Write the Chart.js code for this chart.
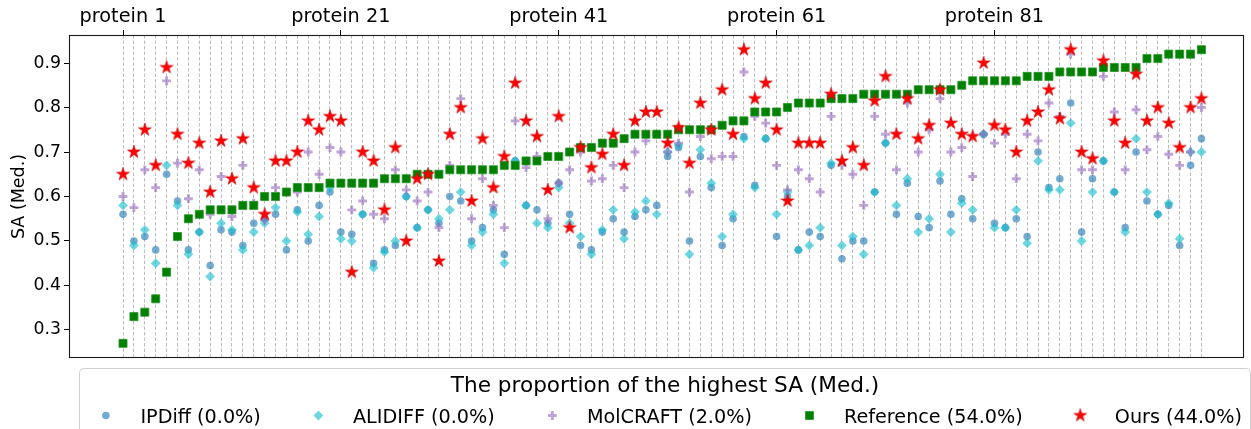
<!DOCTYPE html>
<html>
<head>
<meta charset="utf-8">
<script src="https://cdn.jsdelivr.net/npm/chart.js@4.4.0/dist/chart.umd.min.js"></script>
<style>
html,body{margin:0;padding:0;background:#fff;overflow:hidden}
canvas{display:block}
</style>
</head>
<body>
<canvas id="c" width="1251" height="429"></canvas>
<script>
// ---- data ----
const tickPositions = [1, 21, 41, 61, 81];
const tickLabels = ['protein 1', 'protein 21', 'protein 41', 'protein 61', 'protein 81'];
const yTicks = [0.3, 0.4, 0.5, 0.6, 0.7, 0.8, 0.9];
const seriesLabels = ['IPDiff (0.0%)', 'ALIDIFF (0.0%)', 'MolCRAFT (2.0%)', 'Reference (54.0%)', 'Ours (44.0%)'];
const legendTitle = 'The proportion of the highest SA (Med.)';
const yTitle = 'SA (Med.)';

const ipdiff = [
0.56,0.50,0.51,0.48,0.65,0.59,0.48,0.52,0.445,0.525,
0.52,0.49,0.54,0.55,0.56,0.48,0.57,0.50,0.58,0.61,
0.52,0.515,0.56,0.45,0.48,0.49,0.60,0.53,0.57,0.54,
0.60,0.59,0.50,0.53,0.57,0.47,0.68,0.58,0.57,0.54,
0.63,0.56,0.49,0.48,0.52,0.55,0.52,0.555,0.57,0.58,
0.69,0.71,0.50,0.69,0.62,0.49,0.55,0.735,0.625,0.73,
0.51,0.60,0.48,0.52,0.51,0.67,0.46,0.50,0.50,0.61,
0.72,0.56,0.63,0.555,0.53,0.635,0.56,0.595,0.55,0.74,
0.54,0.53,0.55,0.51,0.70,0.62,0.64,0.81,0.52,0.64,
0.68,0.61,0.53,0.70,0.59,0.56,0.58,0.49,0.67,0.73
];
const alidiff = [
0.58,0.49,0.525,0.45,0.67,0.58,0.47,0.52,0.42,0.54,
0.525,0.48,0.52,0.54,0.575,0.50,0.565,0.515,0.555,0.62,
0.505,0.50,0.56,0.44,0.475,0.50,0.60,0.53,0.57,0.55,
0.57,0.61,0.49,0.52,0.56,0.45,0.68,0.58,0.54,0.53,
0.62,0.54,0.51,0.47,0.525,0.57,0.505,0.565,0.59,0.56,
0.70,0.715,0.47,0.705,0.63,0.51,0.56,0.73,0.62,0.73,
0.56,0.61,0.48,0.49,0.53,0.675,0.49,0.51,0.47,0.61,
0.72,0.58,0.64,0.52,0.55,0.65,0.52,0.585,0.57,0.74,
0.53,0.53,0.57,0.495,0.68,0.615,0.615,0.765,0.50,0.61,
0.68,0.61,0.52,0.73,0.61,0.56,0.585,0.505,0.70,0.70
];
const molcraft = [
0.60,0.575,0.66,0.62,0.86,0.675,0.595,0.66,0.56,0.645,
0.555,0.67,0.585,0.547,0.62,0.61,0.61,0.70,0.65,0.71,
0.70,0.57,0.59,0.56,0.55,0.66,0.615,0.59,0.61,0.53,
0.67,0.82,0.55,0.64,0.58,0.53,0.77,0.665,0.69,0.55,
0.63,0.66,0.70,0.635,0.64,0.67,0.62,0.70,0.725,0.74,
0.70,0.72,0.61,0.735,0.685,0.69,0.69,0.88,0.78,0.765,
0.67,0.615,0.66,0.64,0.61,0.78,0.67,0.65,0.58,0.78,
0.74,0.66,0.81,0.70,0.75,0.82,0.70,0.71,0.645,0.74,
0.72,0.74,0.64,0.74,0.725,0.81,0.78,0.92,0.66,0.66,
0.87,0.79,0.66,0.795,0.705,0.735,0.695,0.67,0.70,0.80
];
const reference = [
0.27,0.33,0.34,0.37,0.43,0.51,0.55,0.56,0.57,0.57,
0.57,0.58,0.58,0.60,0.60,0.61,0.62,0.62,0.62,0.63,
0.63,0.63,0.63,0.63,0.64,0.64,0.64,0.65,0.65,0.65,
0.66,0.66,0.66,0.66,0.66,0.67,0.67,0.68,0.68,0.69,
0.69,0.70,0.71,0.71,0.72,0.72,0.73,0.74,0.74,0.74,
0.74,0.75,0.75,0.75,0.75,0.76,0.77,0.77,0.79,0.79,
0.79,0.80,0.81,0.81,0.81,0.82,0.82,0.82,0.83,0.83,
0.83,0.83,0.83,0.84,0.84,0.84,0.84,0.85,0.86,0.86,
0.86,0.86,0.86,0.87,0.87,0.87,0.88,0.88,0.88,0.88,
0.89,0.89,0.89,0.89,0.91,0.91,0.92,0.92,0.92,0.93
];
const ours = [
0.65,0.70,0.75,0.67,0.89,0.74,0.675,0.72,0.61,0.725,
0.64,0.73,0.62,0.56,0.68,0.68,0.70,0.77,0.75,0.78,
0.77,0.43,0.70,0.68,0.57,0.71,0.50,0.64,0.65,0.455,
0.74,0.80,0.59,0.73,0.62,0.69,0.855,0.77,0.735,0.615,
0.78,0.53,0.71,0.665,0.695,0.74,0.67,0.77,0.79,0.79,
0.72,0.755,0.675,0.81,0.75,0.84,0.74,0.93,0.82,0.855,
0.75,0.59,0.72,0.72,0.72,0.83,0.68,0.71,0.67,0.815,
0.87,0.74,0.82,0.73,0.76,0.84,0.765,0.74,0.735,0.90,
0.76,0.75,0.70,0.77,0.79,0.84,0.775,0.93,0.70,0.685,
0.905,0.77,0.72,0.875,0.77,0.80,0.765,0.71,0.80,0.82
];

// ---- styling ----
const FONT = '"DejaVu Sans", "Liberation Sans", sans-serif';

function makeStar(color, R) {
  const size = Math.ceil(R * 2 + 2);
  const cv = document.createElement('canvas');
  cv.width = size; cv.height = size;
  const c = cv.getContext('2d');
  const cx = size / 2, cy = size / 2, r = R * 0.38;
  c.beginPath();
  for (let i = 0; i < 10; i++) {
    const rad = (i % 2 === 0) ? R : r;
    const a = -Math.PI / 2 + i * Math.PI / 5;
    const px = cx + rad * Math.cos(a), py = cy + rad * Math.sin(a);
    if (i === 0) c.moveTo(px, py); else c.lineTo(px, py);
  }
  c.closePath();
  c.fillStyle = color;
  c.fill();
  c.lineWidth = 0.6;
  c.strokeStyle = 'rgba(200,0,0,1)';
  c.stroke();
  return cv;
}
const starImg = makeStar('#ff0000', 6.8);

function toPoints(arr) { return arr.map((v, i) => ({ x: i + 1, y: v })); }

const datasets = [
  { label: seriesLabels[0], data: toPoints(ipdiff), pointStyle: 'circle', pointRadius: 3.8,
    backgroundColor: 'rgba(31,119,180,0.62)', borderColor: 'rgba(31,119,180,0.62)', borderWidth: 0, order: 5 },
  { label: seriesLabels[1], data: toPoints(alidiff), pointStyle: 'rectRot', pointRadius: 4.9,
    backgroundColor: 'rgba(23,190,207,0.62)', borderColor: 'rgba(23,190,207,0.62)', borderWidth: 0, order: 4 },
  { label: seriesLabels[2], data: toPoints(molcraft), pointStyle: 'cross', pointRadius: 4.4,
    backgroundColor: 'rgba(148,103,189,0.6)', borderColor: 'rgba(148,103,189,0.6)', borderWidth: 2.9, order: 3 },
  { label: seriesLabels[3], data: toPoints(reference), pointStyle: 'rect', pointRadius: 5.7,
    backgroundColor: '#008000', borderColor: 'rgba(40,150,40,1)', borderWidth: 0.8, order: 2 },
  { label: seriesLabels[4], data: toPoints(ours), pointStyle: starImg, pointRadius: 6.8,
    backgroundColor: '#ff0000', borderColor: '#ff0000', borderWidth: 0, order: 1 }
];
datasets.forEach(d => { d.pointHoverRadius = d.pointRadius; d.showLine = false; });

// frame (all four spines)
const framePlugin = {
  id: 'frame',
  afterDatasetsDraw(chart) {
    const { ctx, chartArea: a } = chart;
    ctx.save();
    ctx.strokeStyle = '#1a1a1a';
    ctx.lineWidth = 1.1;
    ctx.strokeRect(Math.round(a.left) + 0.5, Math.round(a.top) + 0.5,
                   Math.round(a.right - a.left) - 1, Math.round(a.bottom - a.top) - 1);
    ctx.restore();
  }
};

// legend drawn below the plot (matplotlib-like layout)
const legendPlugin = {
  id: 'mplLegend',
  afterDraw(chart) {
    const ctx = chart.ctx;
    const fs = 19.2;
    const titleFs = 21.6;
    const boxL = 79.5, boxT = 368.5, boxR = 1250.5, boxB = 445;
    ctx.save();
    ctx.beginPath();
    if (ctx.roundRect) ctx.roundRect(boxL, boxT, boxR - boxL, boxB - boxT, 4);
    else ctx.rect(boxL, boxT, boxR - boxL, boxB - boxT);
    ctx.fillStyle = 'rgba(255,255,255,0.85)';
    ctx.fill();
    ctx.strokeStyle = '#d0d0d0';
    ctx.lineWidth = 1;
    ctx.stroke();

    ctx.font = titleFs + 'px ' + FONT;
    ctx.fillStyle = '#000';
    ctx.textBaseline = 'alphabetic';
    ctx.textAlign = 'center';
    ctx.fillText(legendTitle, 665, 391.5);

    ctx.font = fs + 'px ' + FONT;
    ctx.textAlign = 'left';
    let x = 79 + 0.4 * fs;
    const my = 415.5;
    chart.data.datasets.forEach(ds => {
      const mx = x + fs;
      ctx.save();
      ctx.fillStyle = ds.backgroundColor;
      ctx.strokeStyle = ds.borderColor;
      ctx.lineWidth = ds.borderWidth;
      Chart.helpers.drawPoint(ctx, { pointStyle: ds.pointStyle, radius: ds.pointRadius, borderWidth: ds.borderWidth, rotation: 0 }, mx, my);
      ctx.restore();
      const tx = x + 2 * fs + 0.8 * fs;
      ctx.fillStyle = '#000';
      ctx.fillText(ds.label, tx, 422.5);
      x = tx + ctx.measureText(ds.label).width + 2 * fs;
    });
    ctx.restore();
  }
};

new Chart(document.getElementById('c'), {
  type: 'scatter',
  data: { datasets },
  options: {
    responsive: false,
    animation: false,
    events: [],
    devicePixelRatio: 1,
    layout: { padding: { left: 0, right: 1.5, top: 0, bottom: 71 } },
    plugins: { legend: { display: false }, tooltip: { enabled: false } },
    scales: {
      x: {
        type: 'linear',
        position: 'top',
        min: -3.96,
        max: 103.88,
        afterBuildTicks: s => { s.ticks = reference.map((_, i) => ({ value: i + 1 })); },
        afterFit: s => { s.height = 35; },
        ticks: {
          autoSkip: false, maxRotation: 0, minRotation: 0, padding: 1,
          color: '#000', font: { family: FONT, size: 19.3 },
          callback: v => { const k = tickPositions.indexOf(v); return k >= 0 ? tickLabels[k] : ''; }
        },
        grid: {
          color: '#b4b4b4', lineWidth: 0.9, drawTicks: true, tickLength: 5, tickWidth: 1,
          tickColor: c => (c.tick && tickPositions.indexOf(c.tick.value) >= 0) ? '#000' : 'rgba(0,0,0,0)'
        },
        border: { display: false, dash: [3.5, 2] }
      },
      y: {
        type: 'linear',
        min: 0.237,
        max: 0.963,
        afterBuildTicks: s => { s.ticks = yTicks.map(v => ({ value: v })); },
        afterFit: s => { s.width = 69; },
        ticks: { padding: 3, color: '#000', font: { family: FONT, size: 17.3 }, callback: v => v.toFixed(1) },
        grid: { drawOnChartArea: false, drawTicks: true, tickLength: 5, tickColor: '#000', tickWidth: 1 },
        border: { display: false },
        title: { display: true, text: yTitle, color: '#000', font: { family: FONT, size: 17.5 }, padding: { top: 9, bottom: 0 } }
      }
    }
  },
  plugins: [framePlugin, legendPlugin]
});
</script>
</body>
</html>
